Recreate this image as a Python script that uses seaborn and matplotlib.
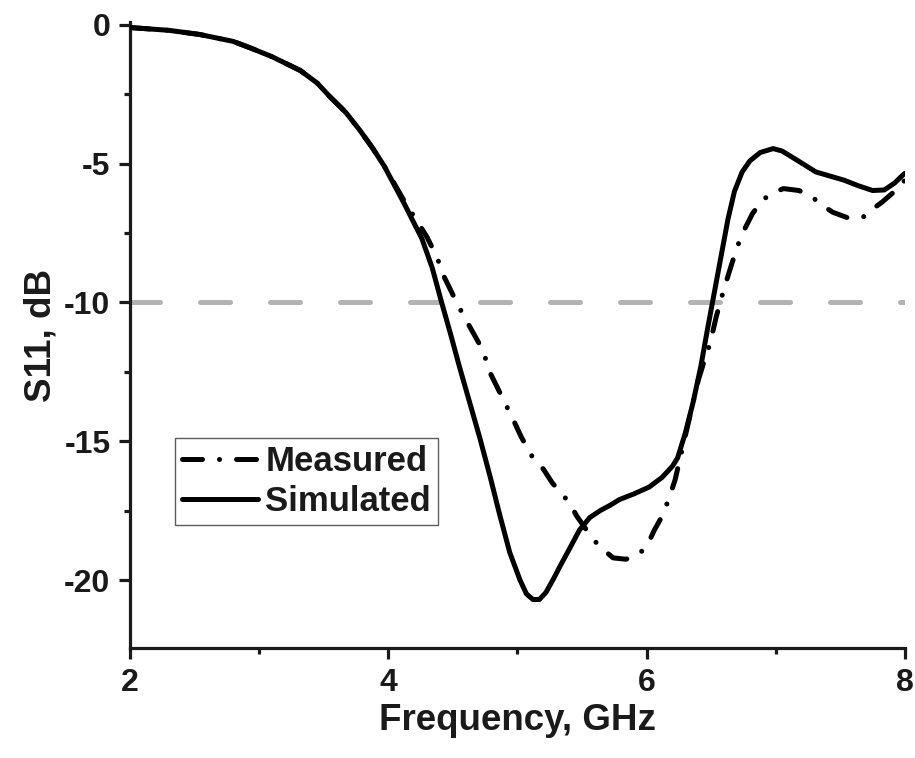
"""
Return loss (S11) of the antenna: measured vs simulated.
"""

import pandas as pd
import matplotlib
matplotlib.use("Agg")
import matplotlib.pyplot as plt
from matplotlib.ticker import MultipleLocator
import seaborn as sns

# ------------------------------------------------------------------ #
# Data
# ------------------------------------------------------------------ #
sim_freq = [2.00, 2.30, 2.54, 2.80, 2.93, 3.10, 3.32, 3.45, 3.55, 3.67, 3.78,
            3.88, 3.97, 4.05, 4.13, 4.20, 4.26, 4.34, 4.41, 4.48, 4.55, 4.63,
            4.71, 4.79, 4.86, 4.94, 5.02, 5.07, 5.12, 5.17, 5.22, 5.28, 5.33,
            5.40, 5.48, 5.56, 5.64, 5.72, 5.79, 5.90, 6.02, 6.12, 6.20, 6.24,
            6.30, 6.36, 6.42, 6.47, 6.51, 6.55, 6.59, 6.63, 6.68, 6.74, 6.80,
            6.88, 6.98, 7.05, 7.12, 7.19, 7.31, 7.42, 7.53, 7.64, 7.75, 7.84,
            7.92, 7.98, 8.00]
sim_s11 = [-0.10, -0.20, -0.35, -0.60, -0.83, -1.15, -1.65, -2.10, -2.60,
           -3.15, -3.80, -4.45, -5.10, -5.80, -6.50, -7.15, -7.70, -8.75,
           -9.95, -11.10, -12.30, -13.60, -14.90, -16.30, -17.60, -19.00,
           -20.00, -20.50, -20.70, -20.70, -20.45, -19.95, -19.50, -18.90,
           -18.20, -17.75, -17.50, -17.30, -17.10, -16.90, -16.65, -16.30,
           -15.90, -15.60, -14.70, -13.60, -12.30, -11.00, -10.00, -9.00,
           -8.00, -7.00, -6.00, -5.30, -4.90, -4.60, -4.46, -4.55, -4.75,
           -4.95, -5.30, -5.45, -5.60, -5.80, -5.97, -5.95, -5.70, -5.43,
           -5.35]

meas_freq = [2.00, 2.30, 2.54, 2.80, 2.93, 3.10, 3.32, 3.45, 3.55, 3.67, 3.78,
             3.88, 3.97, 4.05, 4.13, 4.22, 4.30, 4.38, 4.42, 4.54, 4.61, 4.73,
             4.79, 4.88, 4.96, 5.03, 5.12, 5.20, 5.27, 5.40, 5.46, 5.58, 5.64,
             5.74, 5.84, 5.93, 6.00, 6.06, 6.12, 6.17, 6.22, 6.28, 6.34, 6.40,
             6.46, 6.49, 6.54, 6.60, 6.66, 6.71, 6.76, 6.82, 6.90, 6.98, 7.06,
             7.18, 7.28, 7.36, 7.44, 7.55, 7.62, 7.69, 7.76, 7.82, 7.91, 8.00]
meas_s11 = [-0.10, -0.20, -0.35, -0.60, -0.83, -1.15, -1.65, -2.10, -2.60,
            -3.15, -3.80, -4.45, -5.10, -5.75, -6.40, -7.05, -7.65, -8.40,
            -8.96, -10.10, -10.70, -11.70, -12.55, -13.40, -14.15, -14.85,
            -15.60, -16.00, -16.50, -17.20, -17.70, -18.50, -18.80, -19.20,
            -19.25, -19.10, -18.80, -18.20, -17.70, -17.10, -16.40, -15.20,
            -14.00, -12.80, -11.90, -11.50, -10.50, -9.50, -8.60, -7.90,
            -7.35, -6.80, -6.30, -6.05, -5.90, -5.97, -6.20, -6.50, -6.75,
            -6.94, -6.97, -6.90, -6.60, -6.40, -6.04, -5.60]

threshold_db = -10

df = pd.concat([
    pd.DataFrame({"freq": meas_freq, "s11": meas_s11, "series": "Measured"}),
    pd.DataFrame({"freq": sim_freq, "s11": sim_s11, "series": "Simulated"}),
])

# ------------------------------------------------------------------ #
# Style
# ------------------------------------------------------------------ #
sns.set_theme(style="ticks")
plt.rcParams["font.family"] = ["Liberation Sans", "DejaVu Sans"]
plt.rcParams["font.weight"] = "bold"
plt.rcParams["axes.labelweight"] = "bold"
plt.rcParams["axes.unicode_minus"] = False
plt.rcParams["lines.dash_capstyle"] = "round"
plt.rcParams["lines.solid_capstyle"] = "round"

INK = "#1a1a1a"

fig = plt.figure(figsize=(9.15, 7.58), dpi=100)
ax = fig.add_axes([0.142, 0.145, 0.847, 0.826])

ax.axhline(threshold_db, color="#b3b3b6", lw=3.6, dashes=(6, 8), zorder=1)

sns.lineplot(data=df, x="freq", y="s11", style="series",
             dashes={"Measured": (4, 3.4, 0.01, 3.4), "Simulated": ""},
             color="black", lw=3.6, sort=False, estimator=None, ax=ax,
             zorder=3)

ax.set_xlim(2, 8)
ax.set_ylim(-22.45, 0.1)
ax.xaxis.set_major_locator(MultipleLocator(2))
ax.xaxis.set_minor_locator(MultipleLocator(1))
ax.yaxis.set_major_locator(MultipleLocator(5))
ax.yaxis.set_minor_locator(MultipleLocator(2.5))

for side in ["top", "right"]:
    ax.spines[side].set_visible(False)
for side in ["left", "bottom"]:
    ax.spines[side].set_linewidth(2.3)
    ax.spines[side].set_color(INK)

ax.tick_params(which="major", length=8, width=2.3, labelsize=23, pad=6,
               color=INK, labelcolor=INK)
ax.tick_params(which="minor", length=4, width=2.3, color=INK)
for lab in ax.get_xticklabels() + ax.get_yticklabels():
    lab.set_fontweight("bold")

ax.set_xlabel("Frequency, GHz", fontsize=26.5, labelpad=4, color=INK)
ax.set_ylabel("S11, dB", fontsize=26.5, labelpad=4, color=INK)

leg = ax.legend(loc="upper left", bbox_to_anchor=(0.058, 0.335), fontsize=25,
                frameon=True, fancybox=False, edgecolor="#333333",
                handlelength=2.2, handletextpad=0.2, borderpad=0.2,
                labelspacing=0.2, borderaxespad=0)
leg.get_frame().set_linewidth(1.0)
for t in leg.get_texts():
    t.set_fontweight("bold")
    t.set_color(INK)

fig.savefig("out.png", dpi=100)
